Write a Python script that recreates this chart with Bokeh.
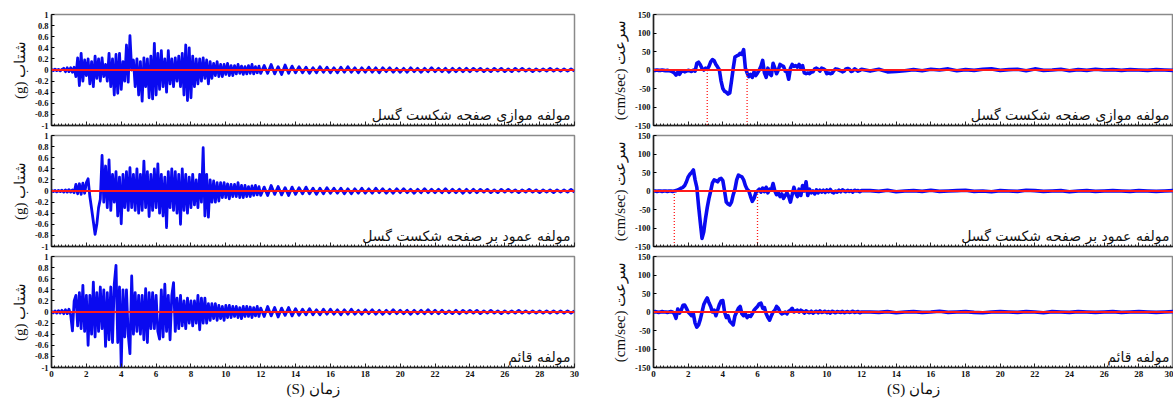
import numpy as np
from bokeh.plotting import figure
from bokeh.layouts import row, column
from bokeh.models import Range1d, FixedTicker, Span, Label
from bokeh.embed import file_html
from bokeh.resources import INLINE

# ---------------- data ----------------
# time grids (s)
t_fine = np.round(np.arange(0, 12.0001, 0.1), 1)        # 0.0 .. 12.0 (121)
t_acc_tail = np.round(np.arange(12.2, 30.0001, 0.2), 1)  # 12.2 .. 30.0 (90)
t_vel_tail = np.round(np.arange(12.5, 30.0001, 0.5), 1)  # 12.5 .. 30.0 (36)

# acceleration (g) - fault-parallel component
acc_par_main = [
    0.01, -0.01, 0.015, -0.01, 0.01, -0.015, 0.01,
    0.03, -0.03, 0.04, -0.03, 0.04, -0.04, 0.05,
    -0.12, 0.22, -0.28, 0.3, -0.2, 0.18, -0.1,
    0.2, -0.25, 0.15, -0.3, 0.25, -0.15, 0.2,
    -0.2, 0.22, -0.12, 0.1, -0.2, 0.3, -0.3,
    0.2, -0.45, 0.28, -0.42, 0.3, -0.35, 0.15,
    -0.2, 0.45, -0.22, 0.62, 0.0, 0.18, -0.3,
    0.2, -0.45, 0.15, -0.56, 0.22, -0.3, 0.2,
    -0.5, 0.25, -0.52, 0.48, -0.45, 0.3, -0.35,
    0.35, -0.3, 0.2, -0.4, 0.35, -0.25, 0.2,
    -0.3, 0.22, -0.2, 0.25, -0.3, 0.3, -0.45,
    0.45, -0.55, 0.4, -0.5, 0.25, -0.3, 0.2,
    -0.25, 0.2, -0.2, 0.22, -0.15, 0.18, -0.25,
    0.15, -0.15, 0.12, -0.1, 0.15, -0.12, 0.1,
    -0.12, 0.1, -0.08, 0.12, -0.1, 0.08, -0.1,
    0.08, -0.07, 0.1, -0.06, 0.07, -0.08, 0.06,
    -0.07, 0.08, -0.06, 0.1, -0.07, 0.06, -0.05, 0.07, -0.06,
]
acc_par_tail = [
    0.08, -0.06, 0.1, -0.07, 0.06, -0.08, 0.09, -0.06, 0.07, -0.05,
    0.06, -0.05, 0.05, -0.06, 0.04, -0.05, 0.06, -0.04, 0.05, -0.05,
    0.04, -0.05, 0.05, -0.04, 0.06, -0.04, 0.04, -0.05, 0.04, -0.04,
    0.05, -0.04, 0.04, -0.05, 0.04, -0.03, 0.04, -0.04, 0.03, -0.04,
    0.03, -0.04, 0.04, -0.03, 0.03, -0.04, 0.03, -0.03, 0.04, -0.03,
    0.03, -0.03, 0.03, -0.04, 0.03, -0.03, 0.03, -0.03, 0.03, -0.03,
    0.03, -0.02, 0.03, -0.03, 0.02, -0.03, 0.03, -0.02, 0.03, -0.03,
    0.02, -0.03, 0.03, -0.02, 0.03, -0.02, 0.02, -0.03, 0.02, -0.02,
    0.02, -0.02, 0.03, -0.02, 0.02, -0.02, 0.02, -0.02, 0.02, -0.02,
]

# acceleration (g) - fault-normal component
acc_nor_main = [
    0.01, -0.01, 0.01, -0.015, 0.01, -0.01, 0.015,
    -0.02, 0.02, -0.02, 0.025, -0.02, 0.02, -0.03,
    0.12, -0.05, 0.13, -0.06, 0.14, -0.04, 0.15,
    0.22, -0.1, -0.32, -0.55, -0.78, -0.6, -0.3,
    -0.15, 0.64, -0.2, 0.45, -0.3, 0.56, -0.35,
    0.3, -0.2, 0.35, -0.45, 0.25, -0.59, 0.3,
    -0.3, 0.35, -0.35, 0.42, -0.3, 0.3, -0.35,
    0.4, -0.4, 0.3, -0.35, 0.54, -0.3, 0.35,
    -0.46, 0.3, -0.35, 0.4, -0.3, 0.49, -0.4,
    0.3, -0.45, 0.25, -0.66, 0.35, -0.3, 0.4,
    -0.35, 0.35, -0.4, 0.3, -0.6, 0.4, -0.35,
    0.3, -0.4, 0.25, -0.3, 0.3, -0.25, 0.2,
    -0.3, 0.3, -0.2, 0.78, -0.45, 0.3, -0.47,
    0.2, -0.2, 0.18, -0.2, 0.15, -0.18, 0.15,
    -0.12, 0.15, -0.12, 0.13, -0.14, 0.12, -0.1,
    0.12, -0.1, 0.15, -0.12, 0.1, -0.12, 0.1,
    -0.1, 0.08, -0.1, 0.09, -0.08, 0.1, -0.07, 0.08, -0.08,
]
acc_nor_tail = [
    0.07, -0.08, 0.1, -0.06, 0.08, -0.07, 0.06, -0.08, 0.07, -0.06,
    0.06, -0.05, 0.07, -0.05, 0.05, -0.06, 0.05, -0.05, 0.06, -0.04,
    0.05, -0.04, 0.05, -0.05, 0.04, -0.05, 0.04, -0.04, 0.05, -0.04,
    0.04, -0.04, 0.05, -0.03, 0.04, -0.04, 0.03, -0.04, 0.04, -0.03,
    0.04, -0.03, 0.03, -0.04, 0.03, -0.03, 0.04, -0.03, 0.03, -0.03,
    0.03, -0.03, 0.04, -0.03, 0.03, -0.03, 0.03, -0.04, 0.03, -0.03,
    0.03, -0.03, 0.03, -0.02, 0.03, -0.03, 0.02, -0.03, 0.03, -0.02,
    0.03, -0.02, 0.02, -0.03, 0.02, -0.02, 0.03, -0.02, 0.02, -0.03,
    0.02, -0.02, 0.02, -0.03, 0.02, -0.02, 0.02, -0.02, 0.03, -0.02,
]

# acceleration (g) - vertical component
acc_ver_main = [
    0.01, -0.015, 0.02, -0.02, 0.025, -0.02, 0.03,
    -0.03, 0.04, -0.03, 0.05, -0.05, -0.34, 0.2,
    0.3, -0.25, 0.35, -0.3, 0.48, -0.35, 0.3,
    -0.6, 0.3, -0.4, 0.54, -0.45, 0.35, -0.35,
    0.45, -0.3, 0.4, -0.62, 0.35, -0.5, 0.45,
    -0.55, 0.5, 0.84, -0.55, 0.45, -1.0, 0.4,
    -0.45, 0.4, -0.4, -0.75, 0.65, -0.4, 0.35,
    -0.35, 0.3, -0.4, 0.3, -0.5, 0.42, -0.55,
    0.35, -0.3, 0.35, -0.3, 0.3, -0.35, -0.49,
    0.4, -0.45, 0.5, -0.35, 0.3, -0.5, 0.3,
    0.53, -0.35, 0.25, -0.3, 0.3, -0.25, 0.2,
    -0.3, 0.25, -0.2, 0.2, -0.25, 0.2, -0.2,
    0.3, -0.32, 0.25, -0.2, 0.25, -0.2, 0.15,
    -0.15, 0.15, -0.12, 0.15, -0.15, 0.12, -0.12,
    0.1, -0.15, 0.12, -0.1, 0.12, -0.1, 0.1,
    -0.08, 0.1, -0.1, 0.08, -0.12, 0.1, -0.08,
    0.1, -0.08, 0.09, -0.1, 0.08, -0.07, 0.1, -0.08, 0.07,
]
acc_ver_tail = [
    -0.08, 0.1, -0.07, 0.08, -0.09, 0.07, -0.06, 0.08, -0.07, 0.06,
    -0.06, 0.05, -0.05, 0.06, -0.05, 0.04, -0.05, 0.05, -0.04, 0.05,
    -0.04, 0.04, -0.05, 0.04, -0.04, 0.05, -0.04, 0.03, -0.04, 0.04,
    -0.03, 0.04, -0.04, 0.03, -0.04, 0.03, -0.03, 0.04, -0.03, 0.03,
    -0.03, 0.03, -0.04, 0.03, -0.03, 0.03, -0.03, 0.04, -0.03, 0.03,
    -0.03, 0.03, -0.03, 0.02, -0.03, 0.03, -0.03, 0.03, -0.02, 0.03,
    -0.02, 0.03, -0.03, 0.02, -0.02, 0.03, -0.02, 0.02, -0.03, 0.02,
    -0.02, 0.02, -0.02, 0.03, -0.02, 0.02, -0.02, 0.02, -0.02, 0.02,
    -0.02, 0.02, -0.02, 0.02, -0.02, 0.02, -0.02, 0.02, -0.02, 0.02,
]

# velocity (cm/sec) - fault-parallel component
vel_par_main = [
    -1, -1, 0, -1, -1, 0, -1,
    -2, -1, -2, -3, -5, -8, -14,
    -6, -12, -4, -2, -5, -3, -1,
    -2, -4, 0, -3, 18, 21, 14,
    4, 0, 5, 2, 10, 22, 28,
    25, 15, 8, 0, -30, -50, -58,
    -60, -65, -62, -30, 5, 35, 38,
    40, 45, 42, 55, 5, -8, -18,
    -12, -20, -5, -15, -8, 0, 10,
    26, -8, -20, 5, -10, -15, 18,
    5, -10, 0, 15, 12, 10, -3,
    -5, -25, 5, 15, 10, 12, 8,
    15, 5, 12, -8, -10, -8, -10,
    -6, -5, 3, 5, 2, -3, 5,
    3, 0, -10, -8, -10, -9, -2,
    3, 2, 0, -2, -5, -3, 3,
    4, 2, -4, -2, 3, 0, -3, -1, 2,
]
vel_par_tail = [
    -3, 2, -5, -4, -2, 1, -2, 2, 0, 3,
    -2, 1, -1, 2, 3, -1, 1, 2, -2, 3,
    -1, 0, 2, -2, 1, -1, 2, 0, 1, -1,
    1, 0, -1, 1, 0, -1,
]

# velocity (cm/sec) - fault-normal component
vel_nor_main = [
    0, 0, -1, 0, 0, -1, 0,
    0, -1, 0, 0, -1, 0, 1,
    3, 5, 8, 10, 15, 25, 38,
    45, 50, 57, 30, 10, -40, -85,
    -128, -110, -75, -45, -20, 0, 22,
    30, 28, 25, 32, 34, 28, 0,
    -30, -35, -38, -30, -10, 5, 30,
    43, 40, 38, 30, 15, 5, 0,
    -15, -28, -20, -5, 0, 5, -3,
    8, -2, 10, -5, 5, 3, 20,
    0, -10, -5, -15, -8, -20, -12,
    -5, -15, -30, -10, 10, -5, -15,
    5, -12, 15, 0, 25, -12, 5,
    -5, 0, -8, 3, -5, 2, -3,
    2, -4, 3, -2, 4, -3, -5,
    0, -3, 2, -2, 3, 0, -2,
    2, -1, 1, -3, 2, 0, 1, -2, 1,
]
vel_nor_tail = [
    1, -1, 2, -2, 0, 1, -1, 2, -1, 0,
    1, 2, -1, 0, -2, 1, 0, -1, 2, 1,
    -1, 0, 1, -2, 0, 1, -1, 0, 1, 0,
    -1, 1, 0, -1, 0, 1,
]

# velocity (cm/sec) - vertical component
vel_ver_main = [
    0, 1, 0, -1, 0, 1, 0,
    0, -1, 0, 1, 0, -5, -17,
    8, -3, 5, 18, 19, 10, 0,
    -5, -10, -5, -30, -41, -35, -20,
    0, 20, 30, 38, 25, 15, 0,
    5, -10, 5, 20, 30, 31, 0,
    -15, -10, -25, -30, -35, -10, 0,
    10, 15, -5, -10, -5, -15, -10,
    -12, -5, 5, 10, 15, 22, 24,
    10, 12, -5, -15, -22, -10, 0,
    5, 15, 10, 0, -5, -3, 0,
    -5, 2, 5, 10, 0, 3, 5,
    0, 5, 2, -3, 3, 0, -2,
    2, -3, 0, 2, -2, 3, -1,
    0, 2, -2, 1, -3, 2, 0,
    -2, 1, 0, -1, 2, -2, 0,
    1, -1, 0, 2, -1, 0, 1, -2, 0,
]
vel_ver_tail = [
    0, -1, 1, -2, 0, 1, -1, 0, 2, -1,
    0, 1, -1, -2, 0, 1, 0, -1, 1, 0,
    -2, 1, 0, -1, 1, 0, -1, 0, 1, -1,
    0, 1, 0, -1, 0, 1,
]

# pulse limits (s) marked with dotted lines on velocity panels
pulse_par = [3.1, 5.4]
pulse_nor = [1.2, 6.0]

# tick labels
x_ticks = list(range(0, 31, 2))
acc_ticks = [-1, -0.8, -0.6, -0.4, -0.2, 0, 0.2, 0.4, 0.6, 0.8, 1]
acc_tick_labels = ["-1", "-0.8", "-0.6", "-0.4", "-0.2", "0", "0.2", "0.4", "0.6", "0.8", "1"]
vel_ticks = [-150, -100, -50, 0, 50, 100, 150]
vel_tick_labels = ["-150", "-100", "-50", "0", "50", "100", "150"]

panel_titles = ["مولفه موازی صفحه شکست گسل", "مولفه عمود بر صفحه شکست گسل", "مولفه قائم"]
acc_label = "(g) شتاب"
vel_label = "(cm/sec) سرعت"
time_label = "(S) زمان"

# ---------------- plotting ----------------
BLUE = "#0a0af0"
RED = "#ff1a1a"
TICK_FONT = "Liberation Serif"
AXIS_FONT = "Liberation Serif"
LABEL_FONT = "DejaVu Sans"

t_acc = np.concatenate([t_fine, t_acc_tail])
t_vel = np.concatenate([t_fine, t_vel_tail])


def make_panel(kind, idx, t, y, width, mb_left, mb_right, pulse=None):
    bottom = idx == 2
    if idx == 0:
        h, mt, mb = 130, 14, 5
    elif idx == 1:
        h, mt, mb = 121, 5, 5
    else:
        h, mt, mb = 150, 5, 34
    if kind == "acc":
        yr = Range1d(-1, 1)
        yt, ylabels, ylab = acc_ticks, acc_tick_labels, acc_label
    else:
        yr = Range1d(-150, 150)
        yt, ylabels, ylab = vel_ticks, vel_tick_labels, vel_label
    p = figure(width=width, height=h, x_range=Range1d(0, 30), y_range=yr,
               output_backend="svg", toolbar_location=None,
               min_border_left=mb_left, min_border_right=mb_right,
               min_border_top=mt, min_border_bottom=mb)
    p.grid.visible = False
    p.outline_line_color = "#8a8a8a"
    p.outline_line_width = 1.5
    p.background_fill_color = "white"
    p.border_fill_color = "white"

    # x axis
    xa = p.xaxis[0]
    xa.ticker = FixedTicker(ticks=x_ticks,
                            minor_ticks=np.round(np.arange(0, 30.001, 0.2), 1).tolist())
    xa.axis_line_color = "#222222"
    xa.axis_line_width = 1.5
    xa.major_tick_in = 4
    xa.major_tick_out = 0
    xa.minor_tick_in = 2
    xa.minor_tick_out = 0
    xa.major_tick_line_color = "#222222"
    xa.minor_tick_line_color = "#222222"
    xa.major_label_text_font = TICK_FONT
    xa.major_label_text_font_style = "bold"
    if bottom:
        xa.major_label_text_font_size = "9px"
        xa.major_label_text_color = "#111111"
        xa.major_label_standoff = 3
        xa.axis_label = time_label
        xa.axis_label_text_font = AXIS_FONT
        xa.axis_label_text_font_size = "15px"
        xa.axis_label_text_font_style = "normal"
        xa.axis_label_text_color = "#111111"
        xa.axis_label_standoff = 1
    else:
        xa.major_label_text_font_size = "1px"
        xa.major_label_text_color = None
        xa.major_label_standoff = 0

    # y axis
    ya = p.yaxis[0]
    ya.ticker = FixedTicker(ticks=yt)
    ya.major_label_overrides = dict(zip(yt, ylabels))
    ya.major_label_text_font = TICK_FONT
    ya.major_label_text_font_style = "bold"
    ya.major_label_text_font_size = "8.5px"
    ya.major_label_text_color = "#111111"
    ya.major_label_standoff = 3
    ya.major_tick_in = 3
    ya.major_tick_out = 0
    ya.minor_tick_line_color = None
    ya.axis_line_color = "#222222"
    ya.axis_line_width = 1.5
    ya.axis_label = ylab
    ya.axis_label_text_font = AXIS_FONT
    ya.axis_label_text_font_size = "15px"
    ya.axis_label_text_font_style = "normal"
    ya.axis_label_text_color = "#111111"
    ya.axis_label_standoff = 4

    # trace
    p.line(t, y, line_color=BLUE, line_width=2.8 if kind == "acc" else 3.6,
           line_join="round")
    p.add_layout(Span(location=0, dimension="width", line_color=RED, line_width=1.8))

    if pulse is not None:
        p.segment(x0=pulse, y0=[0] * len(pulse), x1=pulse, y1=[-150] * len(pulse),
                  line_color=RED, line_width=1.3, line_dash="1 2")

    p.add_layout(Label(x=30, y=yr.start, x_offset=-4, y_offset=3,
                       text=panel_titles[idx], text_align="right", text_baseline="bottom",
                       text_font=LABEL_FONT, text_font_size="14px", text_color="#111111"))
    return p


acc_series = [
    np.array(acc_par_main + acc_par_tail),
    np.array(acc_nor_main + acc_nor_tail),
    np.array(acc_ver_main + acc_ver_tail),
]
vel_series = [
    np.array(vel_par_main + vel_par_tail),
    np.array(vel_nor_main + vel_nor_tail),
    np.array(vel_ver_main + vel_ver_tail),
]
pulses = [pulse_par, pulse_nor, None]

left = [make_panel("acc", i, t_acc, acc_series[i], 600, 51, 26) for i in range(3)]
right = [make_panel("vel", i, t_vel, vel_series[i], 573, 53, 0, pulses[i]) for i in range(3)]

layout = row(column(*left), column(*right))
open("out.html", "w").write(file_html(layout, INLINE))
